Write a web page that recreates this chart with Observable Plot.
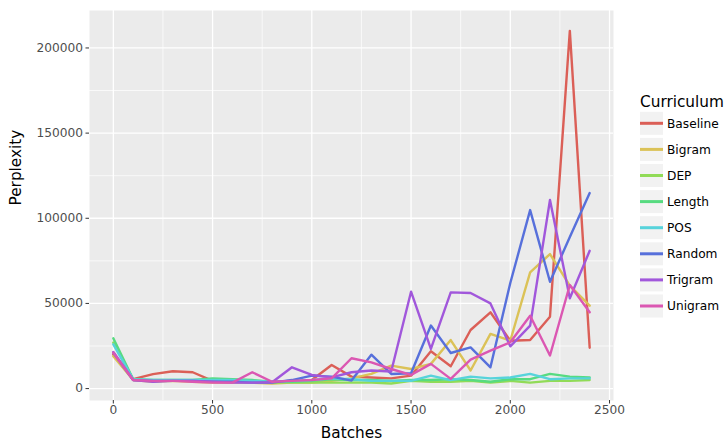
<!DOCTYPE html>
<html>
<head>
<meta charset="utf-8">
<script src="https://cdn.jsdelivr.net/npm/d3@7"></script>
<script src="https://cdn.jsdelivr.net/npm/@observablehq/plot@0.6"></script>
<style>
  body { margin: 0; background: #fff; }
  #wrap { position: relative; width: 727px; height: 444px; background: #fff; font-family: "DejaVu Sans", sans-serif; }
  #legend { position: absolute; left: 630px; top: 0; }
</style>
</head>
<body>
<div id="wrap"><div id="chart"></div><svg id="legend" width="97" height="444"></svg></div>
<script>
const batches = [0,100,200,300,400,500,600,700,800,900,1000,1100,1200,1300,1400,1500,1600,1700,1800,1900,2000,2100,2200,2300,2400];
const curricula = ["Baseline","Bigram","DEP","Length","POS","Random","Trigram","Unigram"];
const colors = ["#db5f57","#dbc257","#91db57","#57db80","#57d3db","#5770db","#a157db","#db57b2"];

const baseline = [20000,5500,8500,10200,9600,4500,4500,4000,3500,4000,5000,13800,7000,6500,6000,7600,21900,13100,34400,44800,28100,28500,42200,210000,24000];
const bigram   = [19000,5000,4000,4500,4000,3500,3500,3500,3000,3500,3500,4500,6000,8600,13500,11500,14500,28500,10600,32100,28100,68200,79000,60400,48700];
const dep      = [27000,5500,4500,4500,4500,5000,4500,4000,3500,3500,3500,3500,3500,3500,3000,4500,4000,4000,4500,3500,4500,3500,4500,4500,5000];
const length   = [29500,5500,5000,5000,5000,6000,5500,5000,4000,4000,4500,5500,5000,5000,4500,5000,5000,5500,5000,4000,5500,5500,8600,7000,6500];
const pos      = [26000,5500,5000,5000,5000,5000,5000,4500,4000,4500,5000,6000,5500,4500,4500,4500,7600,5000,7000,6000,6500,8600,5500,6000,6000];
const random   = [21000,5000,4500,4500,4500,4000,4000,3500,3500,5000,7600,7000,4700,19900,8600,9000,37000,20900,24200,12500,62000,104800,62700,89000,114800];
const trigram  = [21500,5000,4000,4500,4500,4000,3500,3500,3700,12500,8000,6600,9600,10600,10000,56900,23300,56500,56100,50000,24800,37000,110700,53000,80900];
const unigram  = [21000,5000,4500,4500,4000,3500,3500,9600,4000,4500,5000,6000,17800,15400,11500,8000,14500,5700,17000,22300,27200,42800,19400,60800,44800];

const xMajor = [0,500,1000,1500,2000,2500];
const xMinor = [250,750,1250,1750,2250];
const yMajor = [0,50000,100000,150000,200000];
const yMinor = [25000,75000,125000,175000];

const series = [baseline,bigram,dep,length,pos,random,trigram,unigram];
const rows = [];
curricula.forEach((c, i) => batches.forEach((b, j) => rows.push({curriculum: c, batch: b, value: series[i][j]})));

const chart = Plot.plot({
  width: 630, height: 444,
  marginLeft: 89, marginRight: 17, marginTop: 10, marginBottom: 44,
  style: {fontFamily: "DejaVu Sans, sans-serif", fontSize: "12.2px", background: "transparent"},
  x: {domain: [-120, 2520], label: null},
  y: {domain: [-7000, 222000], label: null},
  color: {domain: curricula, range: colors},
  marks: [
    Plot.frame({fill: "#EBEBEB", stroke: null}),
    Plot.ruleX(xMinor, {stroke: "#fff", strokeWidth: 0.7}),
    Plot.ruleY(yMinor, {stroke: "#fff", strokeWidth: 0.7}),
    Plot.ruleX(xMajor, {stroke: "#fff", strokeWidth: 1.3}),
    Plot.ruleY(yMajor, {stroke: "#fff", strokeWidth: 1.3}),
    Plot.line(rows, {x: "batch", y: "value", z: "curriculum", stroke: "curriculum", strokeWidth: 2.4}),
    Plot.axisX({ticks: xMajor, tickSize: 3.5, tickPadding: 1, stroke: "#333", fill: "#4d4d4d", fontSize: 12.2, tickFormat: d => String(d)}),
    Plot.axisY({ticks: yMajor, tickSize: 3.5, tickPadding: 3, stroke: "#333", fill: "#4d4d4d", fontSize: 12.2, tickFormat: d => String(d)}),
    Plot.text(["Batches"], {frameAnchor: "bottom", dy: 37, fontSize: 15.3, fill: "#000"}),
    Plot.text(["Perplexity"], {frameAnchor: "left", dx: -73, rotate: -90, fontSize: 15.3, fill: "#000"})
  ]
});
document.getElementById("chart").appendChild(chart);

const lg = d3.select("#legend");
lg.append("text").attr("x", 10).attr("y", 107).attr("font-size", 15.3).attr("fill", "#000")
  .attr("font-family", "DejaVu Sans, sans-serif").text("Curriculum");
curricula.forEach((c, i) => {
  const cy = 123.3 + i * 26.1;
  lg.append("rect").attr("x", 10).attr("y", cy - 11.5).attr("width", 23).attr("height", 23).attr("fill", "#F2F2F2");
  lg.append("line").attr("x1", 10).attr("x2", 33).attr("y1", cy).attr("y2", cy)
    .attr("stroke", colors[i]).attr("stroke-width", 3);
  lg.append("text").attr("x", 37).attr("y", cy).attr("dy", "0.36em").attr("font-size", 12.2)
    .attr("fill", "#000").attr("font-family", "DejaVu Sans, sans-serif").text(c);
});
</script>
</body>
</html>
